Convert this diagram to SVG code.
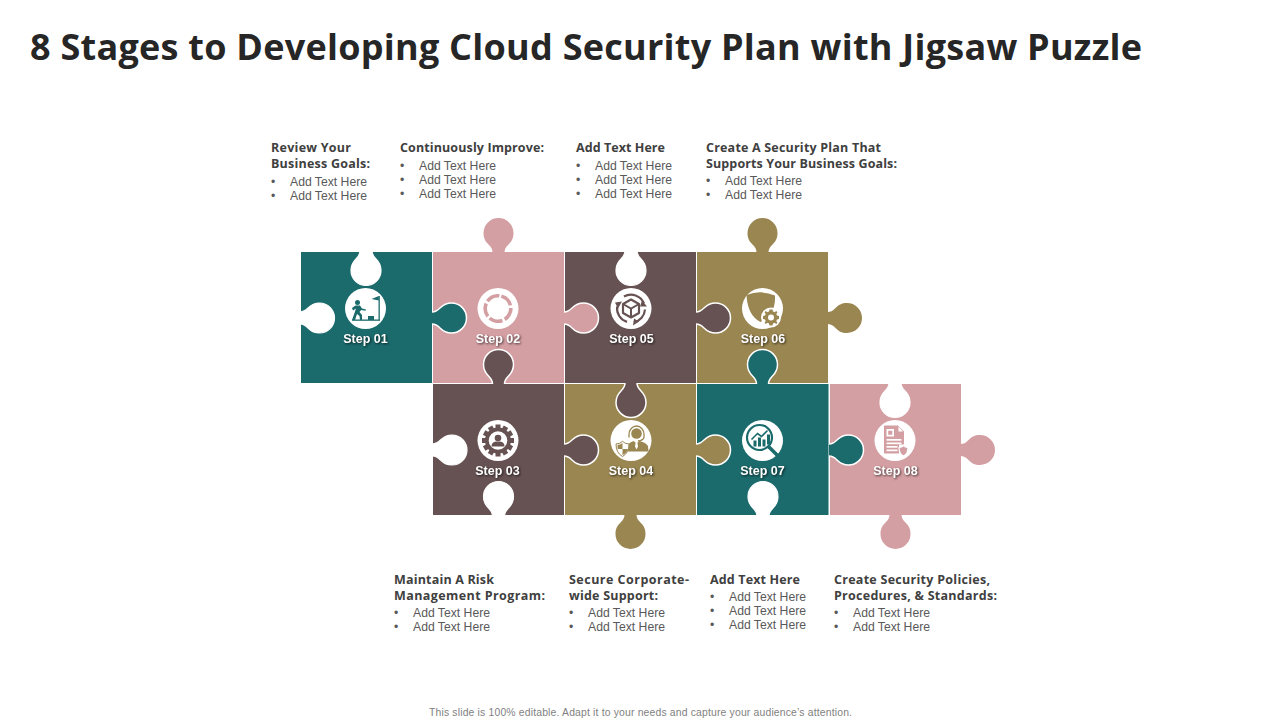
<svg xmlns="http://www.w3.org/2000/svg" xmlns:xlink="http://www.w3.org/1999/xlink" width="1280" height="720" viewBox="0 0 1280 720">
<style>
.teal{fill:#1b6a6c}.pink{fill:#d49fa3}.brown{fill:#675253}.olive{fill:#9a8651}
.in{stroke:#fff;stroke-width:1.5}
.notch{fill:#fff;stroke:#fff;stroke-width:1.2}
.lbl{font:bold 12.5px "Liberation Sans",Arial,sans-serif;fill:#fff;text-anchor:middle;filter:drop-shadow(1px 1px 1px rgba(0,0,0,.65))}
.title{font:bold 36px "Open Sans",sans-serif;fill:#262626}
.h{font:bold 12.5px "Open Sans",sans-serif;fill:#404040}
.b{font:12.2px "Liberation Sans",Arial,sans-serif;fill:#595959}
.foot{font:10.4px "Liberation Sans",Arial,sans-serif;fill:#7f7f7f}
.disc{fill:#fff}
</style>
<defs>
<path id="tab" d="M0,-6 C3,-6 5,-7 8,-10 C11,-13 14,-15 19.5,-15 A15 15 0 0 1 19.5,15 C14,15 11,13 8,10 C5,7 3,6 0,6"/>
<path id="gear" d="M-1.5,-8 H1.5 L2,-6 L3.6,-5.3 L5.3,-6.4 L6.4,-5.3 L5.3,-3.6 L6,-2 L8,-1.5 V1.5 L6,2 L5.3,3.6 L6.4,5.3 L5.3,6.4 L3.6,5.3 L2,6 L1.5,8 H-1.5 L-2,6 L-3.6,5.3 L-5.3,6.4 L-6.4,5.3 L-5.3,3.6 L-6,2 L-8,1.5 V-1.5 L-6,-2 L-5.3,-3.6 L-6.4,-5.3 L-5.3,-6.4 L-3.6,-5.3 L-2,-6 Z"/>
</defs>
<text class="title" x="30" y="60" textLength="1112" lengthAdjust="spacing">8 Stages to Developing Cloud Security Plan with Jigsaw Puzzle</text>

<g id="connectors"></g>

<g id="step-01">
<rect class="teal" x="301" y="252" width="131" height="131"/>
<use href="#tab" class="notch" transform="translate(366,251) rotate(90)"/>
<use href="#tab" class="notch" transform="translate(300,318)"/>
</g>
<g id="step-02">
<rect class="pink" x="433" y="252" width="131" height="131"/>
<use href="#tab" class="pink" transform="translate(498.500,252.500) rotate(-90)"/>
<use href="#tab" class="teal in" transform="translate(432,318)"/>
</g>
<g id="step-05">
<rect class="brown" x="565" y="252" width="131" height="131"/>
<use href="#tab" class="notch" transform="translate(631,251) rotate(90)"/>
<use href="#tab" class="pink in" transform="translate(564,318)"/>
</g>
<g id="step-06">
<rect class="olive" x="697" y="252" width="131" height="131"/>
<use href="#tab" class="olive" transform="translate(762.500,252.500) rotate(-90)"/>
<use href="#tab" class="olive" transform="translate(827.500,318)"/>
<use href="#tab" class="brown in" transform="translate(696,318)"/>
</g>
<g id="step-03">
<rect class="brown" x="433" y="384" width="131" height="131"/>
<use href="#tab" class="notch" transform="translate(432.500,450)"/>
<use href="#tab" class="notch" transform="translate(498.500,516) rotate(-90)"/>
<use href="#tab" class="brown in" transform="translate(498.500,384) rotate(-90)"/>
</g>
<g id="step-04">
<rect class="olive" x="565" y="384" width="131" height="131"/>
<use href="#tab" class="brown in" transform="translate(564,450)"/>
<use href="#tab" class="brown in" transform="translate(631,383) rotate(90)"/>
<use href="#tab" class="olive" transform="translate(630.500,514.500) rotate(90)"/>
</g>
<g id="step-07">
<rect class="teal" x="697" y="384" width="131.500" height="131"/>
<use href="#tab" class="olive in" transform="translate(696,450)"/>
<use href="#tab" class="teal in" transform="translate(762.500,384) rotate(-90)"/>
<use href="#tab" class="notch" transform="translate(763,516) rotate(-90)"/>
</g>
<g id="step-08">
<rect class="pink" x="830" y="384" width="131" height="131"/>
<use href="#tab" class="teal in" transform="translate(829,450)"/>
<use href="#tab" class="notch" transform="translate(895,383) rotate(90)"/>
<use href="#tab" class="pink" transform="translate(960.500,450)"/>
<use href="#tab" class="pink" transform="translate(895.500,514.500) rotate(90)"/>
</g>

<g id="icon-01" transform="translate(365.500,308.500)">
<circle class="disc" r="20.500"/>
<g fill="#1b6a6c">
<rect x="-13.500" y="11" width="28" height="1.300"/>
<rect x="13" y="-12.500" width="1.300" height="24"/>
<path d="M13.300,-12.500 L6,-9.500 L13.300,-8Z"/>
<rect x="2.500" y="7.500" width="6" height="4"/>
<g transform="translate(-2.500,1.500)">
<circle cx="-5.500" cy="-7.500" r="2.500"/>
<path d="M-7.500,-4.500 L-3,-4.500 L-1,-1.500 L3,-0.500 L2.500,0.800 L-1.800,0 L-3.500,2 L-1,5 L-1,10 L-3,10 L-3.500,6 L-6,4 L-8,10 L-11,10 L-8.300,2.500 L-7,-1.500 L-10,0.500 L-11,-2 Z"/>
</g>
</g>
</g>
<g id="icon-02" transform="translate(498,308.500)">
<circle class="disc" r="20.500"/>
<circle r="12.800" fill="none" stroke="#d49fa3" stroke-width="3.600" stroke-dasharray="13.500 2.580" transform="rotate(-75)"/>
</g>
<g id="icon-05" transform="translate(631,308.500)">
<circle class="disc" r="20.500"/>
<g fill="none" stroke="#675253" stroke-width="2.200">
<path d="M-7,-12 A14 14 0 0 1 13,-5"/>
<path d="M14,1 A14 14 0 0 1 3,13.700"/>
<path d="M-4,13.400 A14 14 0 0 1 -13.800,-2"/>
<path d="M0,-9 L8,-4.500 V4.500 L0,9 L-8,4.500 V-4.500 Z" stroke-linejoin="round"/>
<path d="M-8,-4.500 L0,0 L8,-4.500 M0,0 V9" stroke-width="2"/>
</g>
<g fill="#675253">
<path d="M-16,-6 L-9,-7 L-13,0Z"/>
<path d="M11,-8 L16,-2 L9,-2Z"/>
<path d="M3,10 L8,13 L2,17Z"/>
</g>
</g>
<g id="icon-06" transform="translate(762.500,308.500)">
<circle class="disc" r="20.500"/>
<path fill="#9a8651" d="M-16,-13.500 Q-2,-19 12.500,-13 Q13,-2 9,3 Q5,10 -2,13.500 Q-15,7 -16,-13.500Z"/>
<circle cx="8.500" cy="9" r="10" fill="#fff"/>
<g transform="translate(8.500,9)">
<use href="#gear" fill="#9a8651"/>
<circle r="3" fill="#fff"/>
</g>
</g>
<g id="icon-03" transform="translate(498,440.500)">
<circle class="disc" r="20.500"/>
<g fill="#675253">
<circle r="13"/>
<path d="M-2.500,-16 H2.500 V-11 H-2.500Z M-2.500,16 H2.500 V11 H-2.500Z M-16,-2.500 V2.500 H-11 V-2.500Z M16,-2.500 V2.500 H11 V-2.500Z"/>
<path d="M-2.500,-16 H2.500 V-11 H-2.500Z M-2.500,16 H2.500 V11 H-2.500Z M-16,-2.500 V2.500 H-11 V-2.500Z M16,-2.500 V2.500 H11 V-2.500Z" transform="rotate(30)"/>
<path d="M-2.500,-16 H2.500 V-11 H-2.500Z M-2.500,16 H2.500 V11 H-2.500Z M-16,-2.500 V2.500 H-11 V-2.500Z M16,-2.500 V2.500 H11 V-2.500Z" transform="rotate(60)"/>
</g>
<circle r="9.300" fill="#fff"/>
<circle cy="-2.500" r="3.300" fill="#675253"/>
<path fill="#675253" d="M-6.500,6 Q-6.500,1.500 -2,1 L2,1 Q6.500,1.500 6.500,6Z"/>
</g>
<g id="icon-04" transform="translate(631,440.500)">
<circle class="disc" r="20.500"/>
<path fill="none" stroke="#9a8651" stroke-width="1.300" d="M-2,-6 A7.500 8.500 0 0 1 13,-6 M-2,-6 V-3 M13,-6 V-3 Q12,0 7,0.500"/>
<circle cx="5.500" cy="-7" r="5.300" fill="#9a8651"/>
<path fill="#9a8651" d="M-3,11 L-3,4 Q-1,1.500 2.500,0.500 L5.500,3 L8.500,0.500 Q15,2 17,5.500 L17.500,11 Z"/>
<path fill="#fff" d="M4.500,2.500 H6.500 L7,6 L5.500,9 L4,6Z"/>
<path fill="#fff" stroke="#9a8651" stroke-width="1" d="M-15,3.500 Q-11,3.500 -8.500,0.800 Q-6,3.500 -2,3.500 Q-2,12.500 -8.500,16 Q-15,12.500 -15,3.500Z"/>
<path fill="#9a8651" d="M-13.500,4.500 Q-11,4.500 -8.500,2.500 V8.500 H-3.200 Q-4,12.500 -8.500,14.500 V8.500 H-13.300 Q-13.500,6.500 -13.500,4.500Z"/>
</g>
<g id="icon-07" transform="translate(762.500,440.500)">
<circle class="disc" r="20.500"/>
<circle cx="-3" cy="-3" r="12.500" fill="none" stroke="#1b6a6c" stroke-width="2.200"/>
<path d="M6.500,6.500 L14,14" stroke="#1b6a6c" stroke-width="3.500" stroke-linecap="round"/>
<g fill="#1b6a6c">
<rect x="-9" y="0" width="3" height="6"/>
<rect x="-4.500" y="-3" width="3" height="9"/>
<rect x="0" y="-1" width="3" height="7"/>
<rect x="4.500" y="-6" width="3" height="10"/>
</g>
<path d="M-11,-1 L-5,-7 L-1,-4 L5,-10" fill="none" stroke="#1b6a6c" stroke-width="1.600"/>
</g>
<g id="icon-08" transform="translate(895,440.500)">
<circle class="disc" r="20.500"/>
<path fill="#d49fa3" d="M-11,-15 H3 L9,-9 V4 H4 V13 H-11Z"/>
<g fill="#fff">
<path d="M3.500,-14 L8,-9 H3.500Z"/>
<path d="M-8.500,-11.500 H-1 V-4 H-8.500Z M-6.800,-9.800 V-5.700 H-2.700 V-9.800Z" fill-rule="evenodd"/>
<rect x="-8.500" y="-1.500" width="15" height="1.700"/>
<rect x="-8.500" y="2" width="15" height="1.700"/>
<rect x="-8.500" y="5.500" width="11" height="1.700"/>
<rect x="-8.500" y="9" width="11" height="1.700"/>
</g>
<path fill="#d49fa3" stroke="#fff" stroke-width="1.200" d="M4,7 Q7,7 8.500,5 Q10,7 13,7 Q13,13.500 8.500,15.500 Q4,13.500 4,7Z"/>
</g>

<g id="labels">
<text class="lbl" x="365.500" y="343">Step 01</text>
<text class="lbl" x="498" y="343">Step 02</text>
<text class="lbl" x="631.500" y="343">Step 05</text>
<text class="lbl" x="763" y="343">Step 06</text>
<text class="lbl" x="497.500" y="475">Step 03</text>
<text class="lbl" x="631" y="475">Step 04</text>
<text class="lbl" x="762.500" y="475">Step 07</text>
<text class="lbl" x="895.500" y="475">Step 08</text>
</g>

<g id="notes-top">
<text class="h" x="271" y="152" textLength="80" lengthAdjust="spacing">Review Your</text>
<text class="h" x="271" y="168" textLength="99" lengthAdjust="spacing">Business Goals:</text>
<text class="b" x="271" y="186">•</text><text class="b" x="290" y="186">Add Text Here</text>
<text class="b" x="271" y="200">•</text><text class="b" x="290" y="200">Add Text Here</text>

<text class="h" x="400" y="152" textLength="144" lengthAdjust="spacing">Continuously Improve:</text>
<text class="b" x="400" y="170">•</text><text class="b" x="419" y="170">Add Text Here</text>
<text class="b" x="400" y="184">•</text><text class="b" x="419" y="184">Add Text Here</text>
<text class="b" x="400" y="198">•</text><text class="b" x="419" y="198">Add Text Here</text>

<text class="h" x="576" y="152" textLength="89" lengthAdjust="spacing">Add Text Here</text>
<text class="b" x="576" y="170">•</text><text class="b" x="595" y="170">Add Text Here</text>
<text class="b" x="576" y="184">•</text><text class="b" x="595" y="184">Add Text Here</text>
<text class="b" x="576" y="198">•</text><text class="b" x="595" y="198">Add Text Here</text>

<text class="h" x="706" y="152" textLength="175" lengthAdjust="spacing">Create A Security Plan That</text>
<text class="h" x="706" y="168" textLength="191" lengthAdjust="spacing">Supports Your Business Goals:</text>
<text class="b" x="706" y="185">•</text><text class="b" x="725" y="185">Add Text Here</text>
<text class="b" x="706" y="199">•</text><text class="b" x="725" y="199">Add Text Here</text>
</g>
<g id="notes-bottom">
<text class="h" x="394" y="584" textLength="100" lengthAdjust="spacing">Maintain A Risk</text>
<text class="h" x="394" y="600" textLength="151" lengthAdjust="spacing">Management Program:</text>
<text class="b" x="394" y="617">•</text><text class="b" x="413" y="617">Add Text Here</text>
<text class="b" x="394" y="631">•</text><text class="b" x="413" y="631">Add Text Here</text>

<text class="h" x="569" y="584" textLength="120" lengthAdjust="spacing">Secure Corporate-</text>
<text class="h" x="569" y="600" textLength="89" lengthAdjust="spacing">wide Support:</text>
<text class="b" x="569" y="617">•</text><text class="b" x="588" y="617">Add Text Here</text>
<text class="b" x="569" y="631">•</text><text class="b" x="588" y="631">Add Text Here</text>

<text class="h" x="710" y="584" textLength="90" lengthAdjust="spacing">Add Text Here</text>
<text class="b" x="710" y="601">•</text><text class="b" x="729" y="601">Add Text Here</text>
<text class="b" x="710" y="615">•</text><text class="b" x="729" y="615">Add Text Here</text>
<text class="b" x="710" y="629">•</text><text class="b" x="729" y="629">Add Text Here</text>

<text class="h" x="834" y="584" textLength="156" lengthAdjust="spacing">Create Security Policies,</text>
<text class="h" x="834" y="600" textLength="163" lengthAdjust="spacing">Procedures, &amp; Standards:</text>
<text class="b" x="834" y="617">•</text><text class="b" x="853" y="617">Add Text Here</text>
<text class="b" x="834" y="631">•</text><text class="b" x="853" y="631">Add Text Here</text>
</g>
<text class="foot" x="429" y="716" textLength="423" lengthAdjust="spacing">This slide is 100% editable. Adapt it to your needs and capture your audience’s attention.</text>
</svg>
